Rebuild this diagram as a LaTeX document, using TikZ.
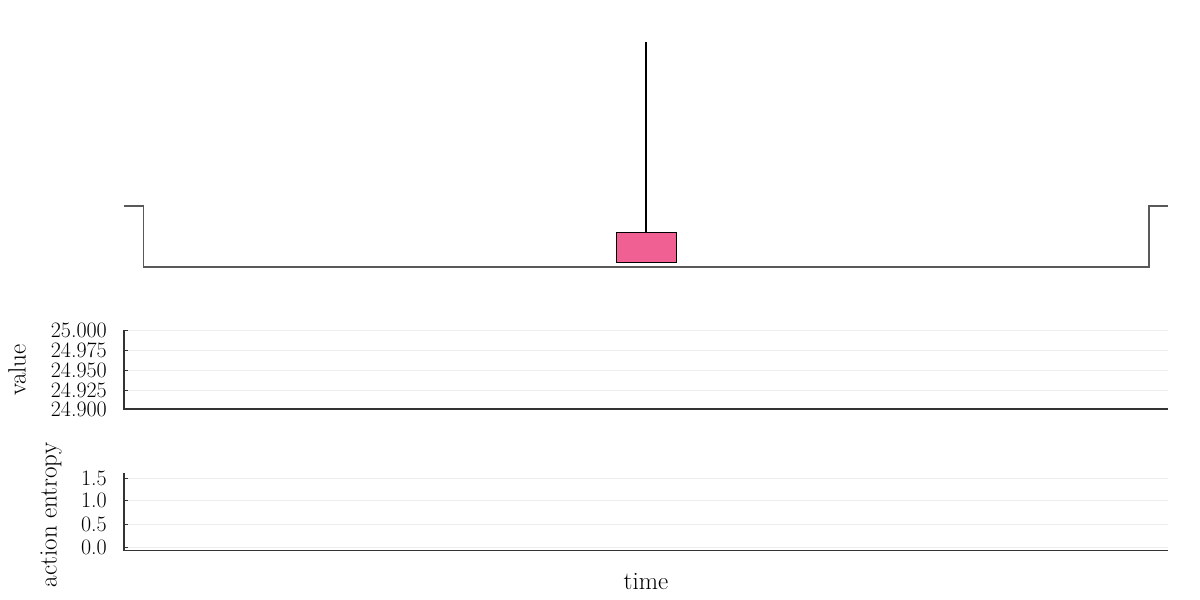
\documentclass[tikz,border=0pt]{standalone}
\begin{document}
\begin{tikzpicture}[x=1pt,y=-1pt,
  lbl/.style={font=\fontsize{22}{24}\selectfont, inner sep=0pt},
  axlbl/.style={font=\fontsize{25}{28}\selectfont, inner sep=0pt},
  ticklbl/.style={lbl, anchor=east},
  axisline/.style={black!80, line width=1.3pt},
  gridline/.style={black!7, line width=1pt},
  tickmark/.style={black!80, line width=1pt},
  track/.style={black!65, line width=1.5pt},
  cartbox/.style={draw=black, line width=1pt, fill=cartpink},
  pole/.style={black, line width=2.5pt}]
\definecolor{cartpink}{RGB}{240,96,146}
\useasboundingbox (0,0) rectangle (1200,600);
% track
\coordinate (t1) at (124,206);
\coordinate (t2) at (143.5,206);
\coordinate (t3) at (143.5,267);
\coordinate (t4) at (1149,267);
\coordinate (t5) at (1149,206);
\coordinate (t6) at (1168,206);
\draw[track] (t1) -- (t2) -- (t3) -- (t4) -- (t5) -- (t6);
% cart and pole
\node[cartbox, minimum width=60pt, minimum height=30pt, inner sep=0pt] (cart) at (646,247) {};
\coordinate (poletop) at (646,42);
\draw[pole] (cart.north) -- (poletop);
% value panel
\foreach \yy in {330.7,350.5,370.3,390,409} \draw[gridline] (124,\yy) -- (1168,\yy);
\coordinate (vo) at (124,409);
\coordinate (vt) at (124,330);
\coordinate (vr) at (1168,409);
\draw[axisline] (vt) -- (vo) -- (vr);
\foreach \yy/\t in {330.7/25.000,350.5/24.975,370.3/24.950,390/24.925,409/24.900}{
  \draw[tickmark] (124,\yy) -- (128,\yy);
  \node[ticklbl] at (107,\yy) {\t};
}
\node[axlbl, rotate=90] (vlabel) at (17,370) {value};
% entropy panel
\foreach \yy in {478,500.7,524,547} \draw[gridline] (124,\yy) -- (1168,\yy);
\coordinate (eo) at (124,550.5);
\coordinate (et) at (124,473);
\coordinate (er) at (1168,550.5);
\draw[axisline] (et) -- (eo) -- (er);
\foreach \yy/\t in {478/1.5,500.7/1.0,524/0.5,547/0.0}{
  \draw[tickmark] (124,\yy) -- (128,\yy);
  \node[ticklbl] at (107,\yy) {\t};
}
\node[axlbl, rotate=90] (elabel) at (51,515) {action entropy};
\node[axlbl] (tlabel) at (646,582) {time};
\end{tikzpicture}
\end{document}
